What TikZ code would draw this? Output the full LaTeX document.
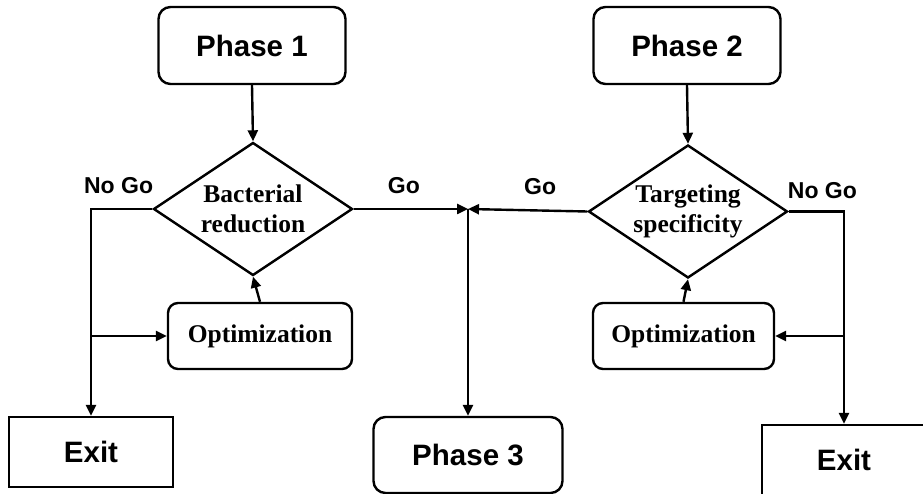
\documentclass[tikz,border=0pt]{standalone}
\usepackage{fontspec}
\setmainfont{Liberation Serif}
\newfontfamily\headfont{Liberation Sans}
\usetikzlibrary{shapes.geometric, arrows.meta, positioning}

\begin{document}
\begin{tikzpicture}[
  x=1pt, y=-1pt,
  phase/.style={rectangle, draw, line width=2.4pt, rounded corners=12pt, text centered, minimum width=187pt, minimum height=77pt, font=\headfont\bfseries\fontsize{29.5}{34}\selectfont},
  exitbox/.style={rectangle, draw, line width=2.4pt, minimum width=164pt, minimum height=70pt, font=\headfont\bfseries\fontsize{29.5}{34}\selectfont},
  decision/.style={diamond, draw, line width=2.4pt, align=center, inner sep=0pt, shape aspect=1.5, minimum width=199pt, minimum height=133pt, font=\bfseries\fontsize{25.5}{30}\selectfont},
  opt/.style={rectangle, draw, line width=2.4pt, rounded corners=10pt, minimum width=184pt, minimum height=66pt, font=\bfseries\fontsize{25.5}{30}\selectfont},
  lbl/.style={inner sep=0pt, font=\headfont\bfseries\fontsize{23}{27}\selectfont},
  arrow/.style={->, line width=2.4pt, >={Triangle[length=11pt, width=10pt]}}
]
\useasboundingbox (0,0) rectangle (923,494);
\clip (0,0) rectangle (923,494);

% left branch
\node[phase] (ph1) at (252,45.5) {Phase 1};
\node[decision] (dec1) at (253,209) {Bacterial\\reduction};
\node[opt] (opt1) at (260,336) {Optimization};
\node[exitbox] (exit1) at (91,452) {Exit};

% middle
\node[phase, minimum width=189pt, minimum height=76pt] (ph3) at (468,455) {Phase 3};
\coordinate (merge) at (468,209);

% right branch
\node[phase] (ph2) at (687,45.5) {Phase 2};
\node[decision] (dec2) at (688,211.5) {Targeting\\specificity};
\node[opt, minimum width=181pt] (opt2) at (683.5,336) {Optimization};
\node[exitbox, minimum width=180pt] (exit2) at (852,460) {\hspace*{-16pt}Exit};

\draw[arrow] (ph1.south) -- (dec1.north);
\draw[arrow] (ph2.south) -- (dec2.north);
\draw[arrow] (dec1.east) -- (merge);
\draw[arrow] (dec2.west) -- (merge);
\draw[arrow] (merge) -- (ph3.north);

\draw[arrow] (dec1.west) -| (exit1.north);
\draw[arrow] (exit1.north |- opt1.west) -- (opt1.west);
\draw[arrow] (opt1.north) -- (dec1.south);

\draw[arrow] (dec2.east) -| ([xshift=-8pt]exit2.north);
\draw[arrow] ([xshift=-8pt]exit2.north |- opt2.east) -- (opt2.east);
\draw[arrow] (opt2.north) -- (dec2.south);

% Go / No Go labels
\node[lbl, above left=15pt and -1pt of dec1.west] (nogo1) {No Go};
\node[lbl, above right=15pt and 34pt of dec1.east] (go1) {Go};
\node[lbl, above left=17pt and 31pt of dec2.west] (go2) {Go};
\node[lbl, above right=13pt and -1pt of dec2.east] (nogo2) {No Go};
\end{tikzpicture}
\end{document}
